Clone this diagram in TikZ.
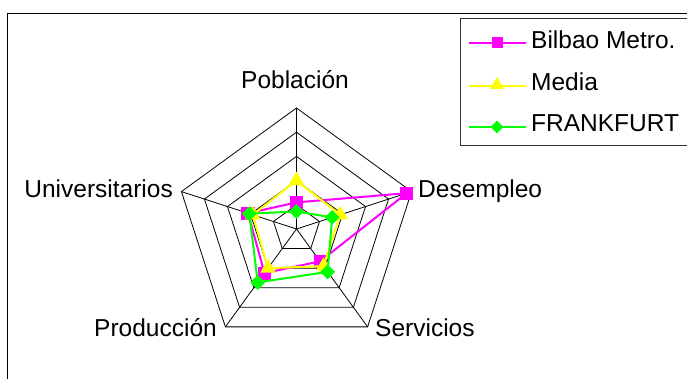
\documentclass[tikz,border=0pt]{standalone}
\usepackage{fontspec}
\setmainfont{Liberation Sans}
\usepackage{tikz}
\usetikzlibrary{shapes.geometric}

\definecolor{bilbaocol}{RGB}{255,0,255}
\definecolor{mediacol}{RGB}{255,255,0}
\definecolor{frankcol}{RGB}{0,255,0}

\begin{document}
\begin{tikzpicture}[x=1pt, y=1pt,
		grid_style/.style={draw=black, line width=0.8pt},
		label_style/.style={font=\fontsize{24.5}{29}\selectfont, inner sep=0pt},
		bilbao_line/.style={draw=bilbaocol, line width=2pt},
		media_line/.style={draw=mediacol, line width=2pt},
		frank_line/.style={draw=frankcol, line width=2pt},
		bilbao_mark/.style={rectangle, fill=bilbaocol, minimum size=13pt, inner sep=0pt},
		media_mark/.style={regular polygon, regular polygon sides=3, fill=mediacol, minimum size=18pt, inner sep=0pt},
		frank_mark/.style={diamond, fill=frankcol, minimum size=15pt, inner sep=0pt}]

		\useasboundingbox (0,0) rectangle (687,379);

		% frame and legend box
		\draw[line width=0.8pt] (7,-2) |- (690,366);
		\draw[line width=0.8pt, draw=black!80] (460,234) rectangle (690,361);

		% radar grid
		\begin{scope}[shift={(296.5,150)}]
		\foreach \r in {24.2,48.4,72.6,96.8,121}
			\draw[grid_style] (90:\r) -- (18:\r) -- (-54:\r) -- (-126:\r) -- (162:\r) -- cycle;
		\foreach \a in {90,18,-54,-126,162}
			\draw[grid_style] (0,0) -- (\a:121);

		% Bilbao Metro.
		\coordinate (b1) at (90:26.6);
		\coordinate (b2) at (18:116);
		\coordinate (b3) at (-54:40);
		\coordinate (b4) at (-126:54.5);
		\coordinate (b5) at (162:51);
		% Media
		\coordinate (m1) at (90:48.4);
		\coordinate (m2) at (18:46);
		\coordinate (m3) at (-54:46);
		\coordinate (m4) at (-126:48.4);
		\coordinate (m5) at (162:46);
		% FRANKFURT
		\coordinate (f1) at (90:17.5);
		\coordinate (f2) at (18:37.5);
		\coordinate (f3) at (-54:53);
		\coordinate (f4) at (-126:66);
		\coordinate (f5) at (162:49.6);

		\draw[bilbao_line] (b1) -- (b2) -- (b3) -- (b4) -- (b5) -- cycle;
		\foreach \i in {1,...,5}
			\node[bilbao_mark] (bm\i) at (b\i) {};
		\draw[media_line] (m1) -- (m2) -- (m3) -- (m4) -- (m5) -- cycle;
		\foreach \i in {1,...,5}
			\node[media_mark] (mm\i) at (m\i) {};
		\draw[frank_line] (f1) -- (f2) -- (f3) -- (f4) -- (f5) -- cycle;
		\foreach \i in {1,...,5}
			\node[frank_mark] (fm\i) at (f\i) {};
		\end{scope}

		% axis labels
		\node[label_style, anchor=base] (pob) at (295,290) {Población};
		\node[label_style, anchor=base east] (uni) at (173,181) {Universitarios};
		\node[label_style, anchor=base west] (des) at (418,181) {Desempleo};
		\node[label_style, anchor=base east] (pro) at (217,42) {Producción};
		\node[label_style, anchor=base west] (ser) at (375,42) {Servicios};

		% legend
		\coordinate (lb0) at (469,336);
		\coordinate (lb1) at (526,336);
		\coordinate (lm0) at (469,293);
		\coordinate (lm1) at (526,293);
		\coordinate (lf0) at (469,252);
		\coordinate (lf1) at (526,252);
		\draw[draw=bilbaocol, line width=1.3pt] (lb0) -- (lb1);
		\draw[draw=mediacol, line width=1.3pt] (lm0) -- (lm1);
		\draw[draw=frankcol, line width=1.3pt] (lf0) -- (lf1);
		\node[bilbao_mark, minimum size=11pt] (lbm) at (497,336) {};
		\node[media_mark, minimum size=16pt] (lmm) at (497,294) {};
		\node[frank_mark, minimum size=13pt] (lfm) at (497,252) {};
		\node[label_style, anchor=base west] (lbt) at (531,330) {Bilbao Metro.};
		\node[label_style, anchor=base west] (lmt) at (531,288) {Media};
		\node[label_style, anchor=base west] (lft) at (531,247) {FRANKFURT};

\end{tikzpicture}
\end{document}
